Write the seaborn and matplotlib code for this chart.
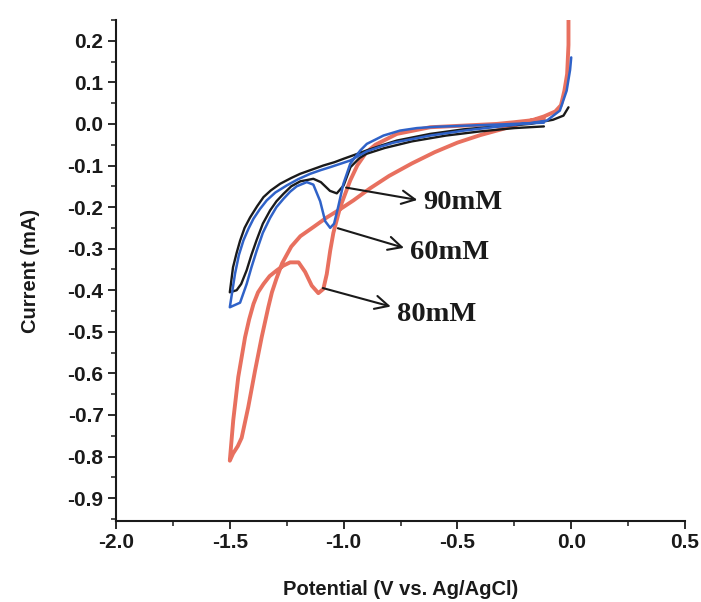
import matplotlib
matplotlib.use('Agg')
import matplotlib.pyplot as plt
import seaborn as sns
import pandas as pd
from matplotlib.ticker import MultipleLocator

# cyclic voltammograms (potential in V, current in mA)
black_v = [-0.12, -0.25, -0.40, -0.55, -0.70, -0.82, -0.90, -0.93, -0.97, -1.00, -1.03,
           -1.06, -1.10, -1.133, -1.19, -1.23, -1.264, -1.295, -1.323, -1.355, -1.382,
           -1.405, -1.426, -1.45, -1.47, -1.50,
           -1.486, -1.47, -1.455, -1.435, -1.411, -1.38, -1.352, -1.32, -1.279, -1.23,
           -1.191, -1.14, -1.089, -1.04, -1.001, -0.95, -0.90, -0.83, -0.766,
           -0.62, -0.473, -0.327, -0.18, -0.08, -0.034, -0.012]
black_i = [-0.006, -0.010, -0.018, -0.028, -0.042, -0.058, -0.072, -0.082, -0.104, -0.148, -0.167,
           -0.161, -0.140, -0.132, -0.138, -0.150, -0.168, -0.186, -0.208, -0.240, -0.279,
           -0.315, -0.352, -0.385, -0.400, -0.405,
           -0.345, -0.310, -0.281, -0.250, -0.225, -0.198, -0.176, -0.160, -0.144, -0.130,
           -0.120, -0.110, -0.100, -0.092, -0.084, -0.074, -0.064, -0.051, -0.040,
           -0.024, -0.013, -0.006, 0.000, 0.010, 0.020, 0.040]

blue_v = [-0.12, -0.30, -0.45, -0.60, -0.678, -0.752, -0.825, -0.898, -0.927, -0.971, -1.001,
          -1.024, -1.042, -1.059, -1.081, -1.103, -1.133, -1.162, -1.206, -1.235, -1.264,
          -1.295, -1.323, -1.355, -1.382, -1.405, -1.426, -1.455, -1.50,
          -1.477, -1.46, -1.44, -1.418, -1.396, -1.368, -1.338, -1.30, -1.25, -1.20,
          -1.147, -1.10, -1.059, -1.015, -0.971, -0.935, -0.898, -0.84, -0.78,
          -0.62, -0.47, -0.33, -0.18, -0.107, -0.05, -0.02, -0.005, 0.0]
blue_i = [0.003, -0.001, -0.004, -0.007, -0.010, -0.016, -0.028, -0.048, -0.064, -0.096, -0.144,
          -0.200, -0.240, -0.250, -0.234, -0.186, -0.146, -0.140, -0.150, -0.163, -0.180,
          -0.200, -0.226, -0.262, -0.305, -0.345, -0.385, -0.430, -0.441,
          -0.360, -0.315, -0.280, -0.252, -0.228, -0.205, -0.184, -0.165, -0.148, -0.133,
          -0.120, -0.111, -0.104, -0.096, -0.088, -0.077, -0.066, -0.055, -0.045,
          -0.028, -0.016, -0.007, 0.002, 0.008, 0.032, 0.080, 0.130, 0.160]

red_v = [-0.12, -0.253, -0.327, -0.473, -0.62, -0.766, -0.86, -0.90, -0.94, -0.971, -1.015,
         -1.045, -1.059, -1.074, -1.089, -1.111, -1.14, -1.169, -1.198, -1.235, -1.265,
         -1.293, -1.325, -1.352, -1.376, -1.396, -1.415, -1.433, -1.463, -1.485, -1.50,
         -1.486, -1.465, -1.448, -1.419, -1.389, -1.36, -1.331, -1.315, -1.295, -1.27,
         -1.23, -1.19, -1.13, -1.074, -1.015, -0.957, -0.884, -0.80, -0.70, -0.60, -0.50,
         -0.40, -0.30, -0.20, -0.12, -0.07, -0.045, -0.03, -0.018, -0.012, -0.012]
red_i = [0.012, 0.004, 0.000, -0.004, -0.008, -0.024, -0.050, -0.068, -0.100, -0.136, -0.200,
         -0.262, -0.305, -0.361, -0.397, -0.407, -0.389, -0.356, -0.333, -0.333, -0.341,
         -0.352, -0.366, -0.385, -0.405, -0.433, -0.470, -0.513, -0.609, -0.713, -0.810,
         -0.793, -0.775, -0.755, -0.681, -0.593, -0.513, -0.441, -0.405, -0.372, -0.335,
         -0.295, -0.270, -0.247, -0.225, -0.205, -0.184, -0.155, -0.125, -0.095, -0.068, -0.045,
         -0.027, -0.012, 0.004, 0.018, 0.030, 0.045, 0.080, 0.120, 0.190, 0.250]

labels = ['90mM', '60mM', '80mM']
label_xy = [(-0.651, -0.188), (-0.708, -0.309), (-0.765, -0.458)]
arrow_from = [(-1.001, -0.152), (-1.037, -0.249), (-1.103, -0.393)]
arrow_to = [(-0.664, -0.184), (-0.723, -0.300), (-0.781, -0.441)]

sns.set_theme(style='ticks')
plt.rcParams['font.family'] = ['Liberation Sans', 'DejaVu Sans']

fig = plt.figure(figsize=(7.01, 6.02), dpi=100)
ax = fig.add_axes([0.1655, 0.1346, 0.8117, 0.8322])

curves = [
    (red_v, red_i, '#e8705f', 2.8),
    (black_v, black_i, '#1a1a1a', 1.7),
    (blue_v, blue_i, '#2f62c8', 1.8),
]
for v, i, c, lw in curves:
    df = pd.DataFrame({'potential': v, 'current': i})
    sns.lineplot(data=df, x='potential', y='current', sort=False, estimator=None,
                 color=c, linewidth=lw, ax=ax, solid_joinstyle='round',
                 solid_capstyle='round')

for lab, (tx, ty), p0, p1 in zip(labels, label_xy, arrow_from, arrow_to):
    ax.annotate('', xy=p1, xytext=p0,
                arrowprops=dict(arrowstyle='->', color='#1a1a1a', lw=1.5, mutation_scale=24))
    ax.text(tx, ty, lab, ha='left', va='center', fontsize=20.5, fontweight='bold',
            family=['Liberation Serif', 'DejaVu Serif'], color='#1a1a1a')

ax.set_xlim(-2.0, 0.5)
ax.set_ylim(-0.955, 0.25)
ax.xaxis.set_minor_locator(MultipleLocator(0.25))
ax.yaxis.set_minor_locator(MultipleLocator(0.05))
ax.set_yticks([round(-0.9 + 0.1 * k, 1) for k in range(12)])
ax.set_yticklabels(['%.1f' % round(-0.9 + 0.1 * k, 1) for k in range(12)])
ax.set_xticks([-2.0, -1.5, -1.0, -0.5, 0.0, 0.5])
ax.set_xticklabels(['-2.0', '-1.5', '-1.0', '-0.5', '0.0', '0.5'])

sns.despine(ax=ax)
for s in ['left', 'bottom']:
    ax.spines[s].set_linewidth(1.5)
    ax.spines[s].set_color('#1a1a1a')
ax.tick_params(which='major', direction='out', length=6, width=1.3, labelsize=15,
               colors='#1a1a1a', pad=3)
ax.tick_params(which='minor', direction='out', length=3.5, width=1.1, colors='#1a1a1a')
for t in ax.get_xticklabels() + ax.get_yticklabels():
    t.set_fontweight('bold')

ax.set_xlabel('Potential (V vs. Ag/AgCl)', fontsize=14.5, fontweight='bold',
              labelpad=20, color='#1a1a1a')
ax.set_ylabel('Current (mA)', fontsize=14.5, fontweight='bold', labelpad=20,
              color='#1a1a1a')

fig.savefig('out.png', dpi=100, facecolor='white')
